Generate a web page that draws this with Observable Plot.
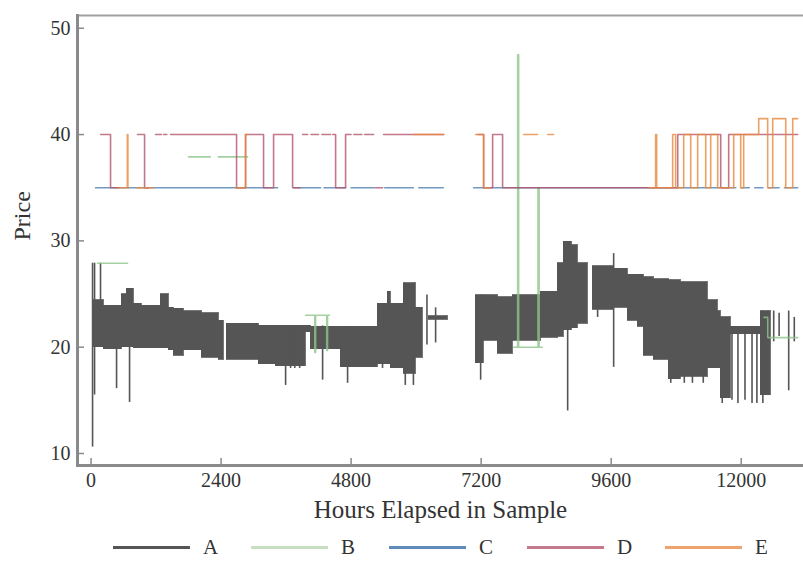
<!DOCTYPE html>
<html><head><meta charset="utf-8">
<script src="https://cdn.jsdelivr.net/npm/d3@7"></script>
<script src="https://cdn.jsdelivr.net/npm/@observablehq/plot@0.6"></script>
<style>
body{margin:0;background:#fff;font-family:"Liberation Serif","Times New Roman",serif;}
#legend{display:flex;height:34px;align-items:center;padding-left:113px;}
.item{display:flex;align-items:center;width:139px;}
.sw{width:77px;height:3px;}
.lab{margin-left:13px;font-size:21px;color:#333;line-height:21px;}
</style></head><body>
<div id="chart"></div>
<div id="legend"></div>
<script>
// Series names and colours
const seriesNames = ["A","B","C","D","E"];
const seriesColors = ["#555555","#8fc489","#4f80b2","#b3566d","#e8883c"];
const legendColors = ["#555555","#c6dfc1","#5f8cba","#c47a8c","#eca36d"];

// Axis ticks
const xTicks = [0,2400,4800,7200,9600,12000];
const yTicks = [10,20,30,40,50];

// Series A: dense hourly band, read as segments (start hour, end hour, low, high)
const A_start = [46,231,563,655,785,932,1283,1431,1523,1708,2040,2354,2501,3092,3406,3960,4052,4606,5289,5474,5529,5769,5991,6231,7098,7246,7504,7781,8298,8612,8723,8870,8980,9258,9646,9904,10090,10200,10384,10660,10882,11382,11566,11622,11806,12360];
const A_end   = [231,563,655,785,932,1283,1431,1523,1708,2040,2354,2446,3092,3406,3960,4052,4606,5289,5474,5529,5769,5991,6120,6581,7246,7504,7781,8298,8612,8723,8870,8980,9166,9646,9904,10090,10200,10384,10660,10882,11382,11566,11622,11806,12360,12545];
const A_low   = [20.0,19.8,20.0,20.0,19.9,19.9,19.9,19.7,19.2,19.7,19.0,18.8,18.8,18.4,18.2,21.4,19.8,18.1,18.4,18.4,18.0,17.5,19.0,22.6,18.5,20.6,19.4,20.6,20.9,21.0,21.6,21.8,22.2,23.5,23.7,22.5,21.9,19.2,18.8,17.0,17.2,18.0,18.0,15.2,21.2,15.5];
const A_high  = [24.4,23.9,25.0,25.5,24.1,23.9,25.0,23.7,23.6,23.4,23.2,22.5,22.2,22.0,22.0,22.0,21.9,21.9,24.1,25.2,24.1,26.0,23.7,22.9,24.9,24.9,24.7,24.9,25.2,27.9,29.9,29.6,27.9,27.6,27.4,26.8,26.8,26.6,26.4,26.3,26.1,24.4,23.4,22.8,21.9,23.4];

// Series A: isolated spikes (hour, low, high)
const A_spikeHour = [28,65,175,471,711,3591,3683,3760,3850,4274,4735,5380,5800,5950,6200,6360,7191,8797,9350,9646,10700,10950,11100,11300,11650,11830,11940,12070,12200,12290,12400,12490,12600,12700,12877,12980];
const A_spikeLow  = [10.6,15.5,20.0,16.1,14.8,16.4,18.0,18.0,18.0,16.9,16.6,18.0,16.4,16.4,20.2,20.4,16.9,14.0,22.8,18.1,16.6,16.6,16.6,16.6,14.7,15.0,14.7,15.0,14.7,14.7,14.7,15.6,20.5,21.0,15.9,20.5];
const A_spikeHigh = [27.9,27.9,27.9,23.9,25.5,22.0,22.0,22.0,22.0,22.0,21.9,24.1,26.0,26.0,24.9,23.7,24.9,29.9,27.6,28.8,26.3,26.1,26.1,26.1,22.8,21.9,21.9,21.9,21.9,21.9,23.4,23.4,23.4,23.2,23.4,22.8];

// Series B (step series, null = missing)
const B_hours = [120,674,690,1800,2200,2210,2350,2889,2900,3960,4130,4145,4350,4365,4400,4410,7800,7874,7892,8250,8270,8330,8340,12420,12490,13043];
const B_price = [27.9,27.9,null,37.9,37.9,null,37.9,37.9,null,23.0,19.5,23.0,19.7,23.0,23.0,null,20,47.5,20,35,20,20,null,22.8,20.9,20.9];

// Series C
const C_hours = [83,3443,3450,3738,4237,4250,4300,4700,4710,4800,5230,5240,5420,5950,5960,6050,6500,6510,7060,11900,11910,12000,12150,12160,12250,12400,12410,12500,12700,12710,12800,13043];
const C_price = [35,35,null,35,35,null,35,35,null,35,35,null,35,35,null,35,35,null,35,35,null,35,35,null,35,35,null,35,35,null,35,35];

// Series D
const D_hours = [175,360,520,530,859,988,1060,1070,1191,1300,1310,1340,1400,1410,1468,2686,2852,3184,3369,3720,3860,3870,3905,4000,4010,4060,4200,4210,4260,4420,4430,4460,4514,4698,4800,4810,4850,5000,5010,5050,5215,5225,5252,5381,5390,5400,6508,6518,7135,7246,7412,7596,10829,11622,11769,13043];
const D_price = [40,35,35,null,40,35,35,null,40,40,null,40,40,null,40,35,40,35,40,35,35,null,40,40,null,40,40,null,40,40,null,40,35,40,40,null,40,40,null,40,40,null,35,35,null,40,40,null,40,35,40,35,40,35,40,40];

// Series E
const E_hours = [508,670,680,700,710,840,1154,1164,2668,2852,2890,2900,5954,6508,6518,7098,7246,7370,7380,7984,8242,8252,8427,8538,8548,10300,10421,10440,10735,10790,10939,11068,11197,11345,11437,11566,11862,11991,12046,12323,12489,12582,12822,12951,13043];
const E_price = [35,40,35,35,null,35,35,null,35,40,40,null,40,40,null,40,35,35,null,40,40,null,40,40,null,35,40,35,40,35,40,35,40,35,40,35,40,35,40,41.5,35,41.5,35,41.5,41.5];

// Build tables
const bandRows = A_start.map((s,i)=>({start:s,end:A_end[i],low:A_low[i],high:A_high[i]}));
const spikeRows = A_spikeHour.map((h,i)=>({hour:h,low:A_spikeLow[i],high:A_spikeHigh[i]}));
const mk = (hs,ps)=>hs.map((h,i)=>({hour:h,price:ps[i]}));
const lines = [mk(B_hours,B_price),mk(C_hours,C_price),mk(D_hours,D_price),mk(E_hours,E_price)];

const axisColor = "#8a8a8a";
const chart = Plot.plot({
  width: 803, height: 530,
  marginLeft: 77, marginRight: 0, marginTop: 15, marginBottom: 65,
  x: {domain: [-250, 13150]},
  y: {domain: [8.87, 51.2]},
  style: {fontFamily: "'Liberation Serif','Times New Roman',serif", fontSize: "20px", color: "#333", background: "#fff"},
  marks: [
    Plot.rect(bandRows, {x1:"start", x2:"end", y1:"low", y2:"high", fill: seriesColors[0], stroke: seriesColors[0], strokeWidth: 0.8, shapeRendering: "crispEdges"}),
    Plot.ruleX(spikeRows, {x:"hour", y1:"low", y2:"high", stroke: seriesColors[0], strokeWidth: 1.6}),
    ...lines.map((rows,k)=>Plot.line(rows, {x:"hour", y:"price", curve:"step-after", stroke: seriesColors[k+1], strokeWidth: 1.6, strokeOpacity: 0.8})),
    Plot.frame({anchor:"top", stroke:"#a0a0a0", strokeWidth: 2}),
    Plot.frame({anchor:"left", stroke: axisColor, strokeWidth: 3}),
    Plot.frame({anchor:"bottom", stroke: axisColor, strokeWidth: 3}),
    Plot.axisX({ticks: xTicks, tickSize: -7, tickPadding: 14, stroke: axisColor, strokeWidth: 1.5, label: null, tickFormat: d=>String(d)}),
    Plot.axisY({ticks: yTicks, tickSize: -7, tickPadding: 14, stroke: axisColor, strokeWidth: 1.5, label: null}),
    Plot.text(["Hours Elapsed in Sample"], {frameAnchor: "bottom", dy: 44, lineAnchor: "middle", fontSize: 25, fill: "#333"}),
    Plot.text(["Price"], {frameAnchor: "left", dx: -55, rotate: -90, lineAnchor: "middle", fontSize: 24, fill: "#333"})
  ]
});
document.getElementById("chart").append(chart);

const leg = document.getElementById("legend");
seriesNames.forEach((n,i)=>{
  const it = document.createElement("div"); it.className = "item";
  const sw = document.createElement("span"); sw.className = "sw"; sw.style.background = legendColors[i];
  const lb = document.createElement("span"); lb.className = "lab"; lb.textContent = n;
  it.append(sw, lb); leg.append(it);
});
</script></body></html>
